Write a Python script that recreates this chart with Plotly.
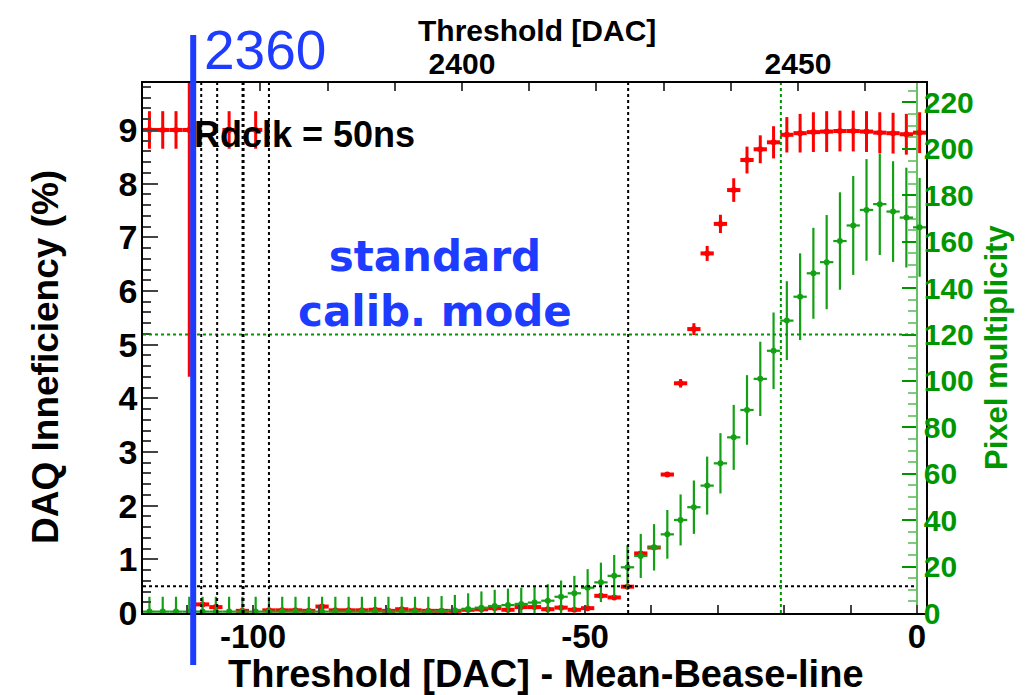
import plotly.graph_objects as go

# Threshold relative to the mean baseline (bin centres, 2 DAC bins)
thr = [-115.6, -113.6, -111.6, -109.6, -107.6, -105.6, -103.6, -101.6, -99.6, -97.6,
       -95.6, -93.6, -91.6, -89.6, -87.6, -85.6, -83.6, -81.6, -79.6, -77.6,
       -75.6, -73.6, -71.6, -69.6, -67.6, -65.6, -63.6, -61.6, -59.6, -57.6,
       -55.6, -53.6, -51.6, -49.6, -47.6, -45.6, -43.6, -41.6, -39.6, -37.6,
       -35.6, -33.6, -31.6, -29.6, -27.6, -25.6, -23.6, -21.6, -19.6, -17.6,
       -15.6, -13.6, -11.6, -9.6, -7.6, -5.6, -3.6, -1.6, 0.4]

# DAQ inefficiency (%) and its uncertainty
daq_ineff = [9.0, 9.0, 9.0, 9.0, 0.16, 0.11, 9.0, 0.04, 9.0, 0.05,
             0.05, 0.05, 0.04, 0.12, 0.05, 0.05, 0.05, 0.06, 0.04, 0.07,
             0.05, 0.04, 0.04, 0.04, 0.06, 0.07, 0.09, 0.06, 0.11, 0.11,
             0.07, 0.10, 0.06, 0.09, 0.32, 0.29, 0.49, 1.11, 1.22, 2.58,
             4.28, 5.29, 6.70, 7.25, 7.88, 8.44, 8.64, 8.77, 8.91, 8.94,
             8.96, 8.97, 8.98, 8.98, 8.97, 8.95, 8.94, 8.92, 8.95]
daq_err = [0.35, 0.35, 0.35, 4.6, 0.02, 0.02, 0.35, 0.02, 0.35, 0.02,
           0.02, 0.02, 0.02, 0.02, 0.02, 0.02, 0.02, 0.02, 0.02, 0.02,
           0.02, 0.02, 0.02, 0.02, 0.02, 0.02, 0.02, 0.02, 0.02, 0.02,
           0.02, 0.02, 0.02, 0.02, 0.02, 0.02, 0.03, 0.03, 0.03, 0.04,
           0.08, 0.11, 0.14, 0.17, 0.22, 0.25, 0.26, 0.30, 0.33, 0.36,
           0.37, 0.38, 0.38, 0.38, 0.38, 0.38, 0.38, 0.38, 0.38]

# Mean pixel multiplicity and its uncertainty
pix_mult = [0.6, 0.6, 0.6, 0.6, 0.6, 0.6, 0.6, 0.6, 0.6, 0.6,
            0.6, 0.6, 0.6, 0.6, 0.6, 0.6, 0.6, 0.6, 0.6, 0.6,
            0.6, 0.6, 0.8, 1.2, 1.7, 2.3, 3.0, 3.4, 3.9, 4.5,
            5.3, 7.0, 8.5, 10.9, 13.2, 16.0, 19.7, 24.6, 28.3, 33.9,
            40.1, 45.6, 54.9, 64.5, 75.7, 87.5, 100.9, 113.0, 126.0, 136.3,
            146.4, 151.2, 160.3, 167.0, 173.7, 176.2, 173.0, 170.4, 166.2]
pix_err = [6.4, 6.4, 6.4, 6.4, 6.4, 6.4, 6.4, 6.4, 6.4, 6.4,
           6.4, 6.4, 6.4, 6.4, 6.4, 6.4, 6.4, 6.4, 6.4, 6.4,
           6.4, 6.4, 6.5, 6.6, 6.8, 7.0, 7.0, 7.1, 7.0, 6.8,
           7.1, 7.0, 7.5, 8.0, 8.5, 9.0, 9.5, 9.5, 10.0, 10.5,
           11.0, 11.5, 12.5, 13.0, 14.0, 15.0, 16.0, 16.5, 17.0, 18.7,
           19.6, 20.3, 21.0, 21.3, 21.9, 21.9, 21.7, 21.5, 21.3]

# Reference lines
daq_limit = 0.5           # % (horizontal, black)
mult_limit = 120          # pixels (horizontal, green)
black_vlines = [-107.8, -105.4, -101.5, -97.6, -43.5]
green_vline = -20.5
calib_dac = 2360          # absolute threshold marked in blue

x_labels = {-100: "-100", -50: "-50", 0: "0"}
top_labels = {2400: "2400", 2450: "2450"}

W, H = 1031, 695
H_DRAW = 676              # vertical extent the page actually lays the figure out in
PX_L, PX_R, PY_T, PY_B = 143, 926, 83, 613
PX_RAXIS = 917

RED = "rgb(255,0,0)"
GREEN = "rgb(0,150,0)"
GREEN_BAR = "rgb(20,160,20)"
BLUE = "rgb(30,60,255)"
FONT = "Liberation Sans"


def px(x):
    return x / W


def py(y):
    return 1 - y / H_DRAW


fig = go.Figure()

fig.add_trace(go.Scatter(
    x=thr, y=pix_mult, yaxis="y2", mode="markers",
    marker=dict(size=0, color=GREEN_BAR),
    error_x=dict(type="constant", value=1, width=0, thickness=2.2, color=GREEN_BAR),
    error_y=dict(type="data", array=pix_err, width=0, thickness=2.2, color=GREEN_BAR),
    showlegend=False, hoverinfo="skip"))

fig.add_trace(go.Scatter(
    x=thr, y=daq_ineff, yaxis="y", mode="markers",
    marker=dict(size=0, color=RED),
    error_x=dict(type="constant", value=1, width=0, thickness=4, color=RED),
    error_y=dict(type="data", array=daq_err, width=0, thickness=3, color=RED),
    showlegend=False, hoverinfo="skip"))

# top axis carrier
fig.add_trace(go.Scatter(x=[calib_dac], y=[None], xaxis="x2", yaxis="y",
                         mode="markers", showlegend=False, hoverinfo="skip"))

shapes = []
dot_black = dict(color="black", width=2, dash="dot")
shapes.append(dict(type="line", xref="x", yref="y", x0=-116.57, x1=0,
                   y0=daq_limit, y1=daq_limit, line=dot_black))
shapes.append(dict(type="line", xref="x", yref="y2", x0=-116.57, x1=0,
                   y0=mult_limit, y1=mult_limit,
                   line=dict(color=GREEN, width=2, dash="dot")))
for xv in black_vlines:
    shapes.append(dict(type="line", xref="x", yref="paper", x0=xv, x1=xv,
                       y0=py(PY_B), y1=py(PY_T),
                       line=dict(color="black", width=3 if xv == -101.5 else 2, dash="dot")))
shapes.append(dict(type="line", xref="x", yref="paper", x0=green_vline, x1=green_vline,
                   y0=py(PY_B), y1=py(PY_T), line=dict(color=GREEN, width=2, dash="dot")))
shapes.append(dict(type="line", xref="x2", yref="paper", x0=calib_dac, x1=calib_dac,
                   y0=py(665), y1=py(35), line=dict(color=BLUE, width=6)))


def bold(size, color="black"):
    return dict(family=FONT, size=size, color=color, weight="bold")


annotations = [
    dict(text="Threshold [DAC] - Mean-Bease-line", x=px(546), y=py(674), xref="paper", yref="paper",
         showarrow=False, font=bold(38), xanchor="center", yanchor="middle"),
    dict(text="Threshold [DAC]", x=px(537), y=py(30), xref="paper", yref="paper",
         showarrow=False, font=bold(30), xanchor="center", yanchor="middle"),
    dict(text="DAQ Inneficiency (%)", x=px(45), y=py(357), xref="paper", yref="paper",
         showarrow=False, font=bold(37), textangle=-90, xanchor="center", yanchor="middle"),
    dict(text="Pixel multiplicity", x=px(996), y=py(348), xref="paper", yref="paper",
         showarrow=False, font=bold(31, GREEN), textangle=-90, xanchor="center", yanchor="middle"),
    dict(text="Rdclk = 50ns", x=px(304), y=py(135), xref="paper", yref="paper",
         showarrow=False, font=bold(36), xanchor="center", yanchor="middle"),
    dict(text="2360", x=px(265), y=py(50), xref="paper", yref="paper",
         showarrow=False, font=dict(family=FONT, size=55, color=BLUE),
         xanchor="center", yanchor="middle"),
    dict(text="standard<br>calib. mode", x=px(435), y=py(284), xref="paper", yref="paper",
         showarrow=False, font=dict(family="DejaVu Sans", size=42, color=BLUE, weight="bold"),
         xanchor="center", yanchor="middle", align="center"),
]

xt = [v for v in range(-110, 1, 10)]
tt = [v for v in range(2360, 2461, 10)]

fig.update_layout(
    width=W, height=H, margin=dict(l=0, r=0, t=0, b=0), autosize=False,
    paper_bgcolor="white", plot_bgcolor="white",
    shapes=shapes, annotations=annotations, showlegend=False,
    xaxis=dict(domain=[px(PX_L), px(PX_R)], range=[-116.57, 1.36], anchor="y",
               tickvals=xt, ticktext=[x_labels.get(v, "") for v in xt],
               ticks="inside", ticklen=8, tickwidth=1.5, tickcolor="#444",
               showline=True, linecolor="black", linewidth=1.5, mirror=False,
               showgrid=False, zeroline=False, tickfont=bold(33), ticklabelstandoff=-6),
    xaxis2=dict(overlaying="x", side="top", anchor="y", range=[2352.53, 2469.05],
                tickvals=tt, ticktext=[top_labels.get(v, "") for v in tt],
                ticks="inside", ticklen=8, tickwidth=1.5, tickcolor="#444",
                showline=True, linecolor="black", linewidth=1.5,
                showgrid=False, zeroline=False, tickfont=bold(30), ticklabelstandoff=-5),
    yaxis=dict(domain=[py(PY_B), py(PY_T)], range=[0, 9.875], anchor="x",
               tickvals=list(range(0, 10)), ticks="inside", ticklen=15, tickwidth=1.5,
               tickcolor="#444", minor=dict(dtick=0.2, tick0=0, ticks="inside", ticklen=8,
                                            tickwidth=1.5, tickcolor="#444"),
               showline=True, linecolor="black", linewidth=1.5, mirror=True,
               showgrid=False, zeroline=False, tickfont=bold(34), ticklabelstandoff=-3),
    yaxis2=dict(overlaying="y", anchor="free", position=px(PX_RAXIS), side="right",
                range=[0, 228.4], tickvals=list(range(0, 221, 20)),
                ticks="inside", ticklen=14, tickwidth=1.5, tickcolor=GREEN,
                minor=dict(dtick=5, tick0=0, ticks="inside", ticklen=8, tickwidth=1.5,
                           tickcolor="rgba(0,150,0,0.5)"),
                showline=True, linecolor="rgba(0,150,0,0.6)", linewidth=1.5,
                showgrid=False, zeroline=False, tickfont=bold(30, GREEN)),
)

fig.write_html("out.html", config={"responsive": False})
